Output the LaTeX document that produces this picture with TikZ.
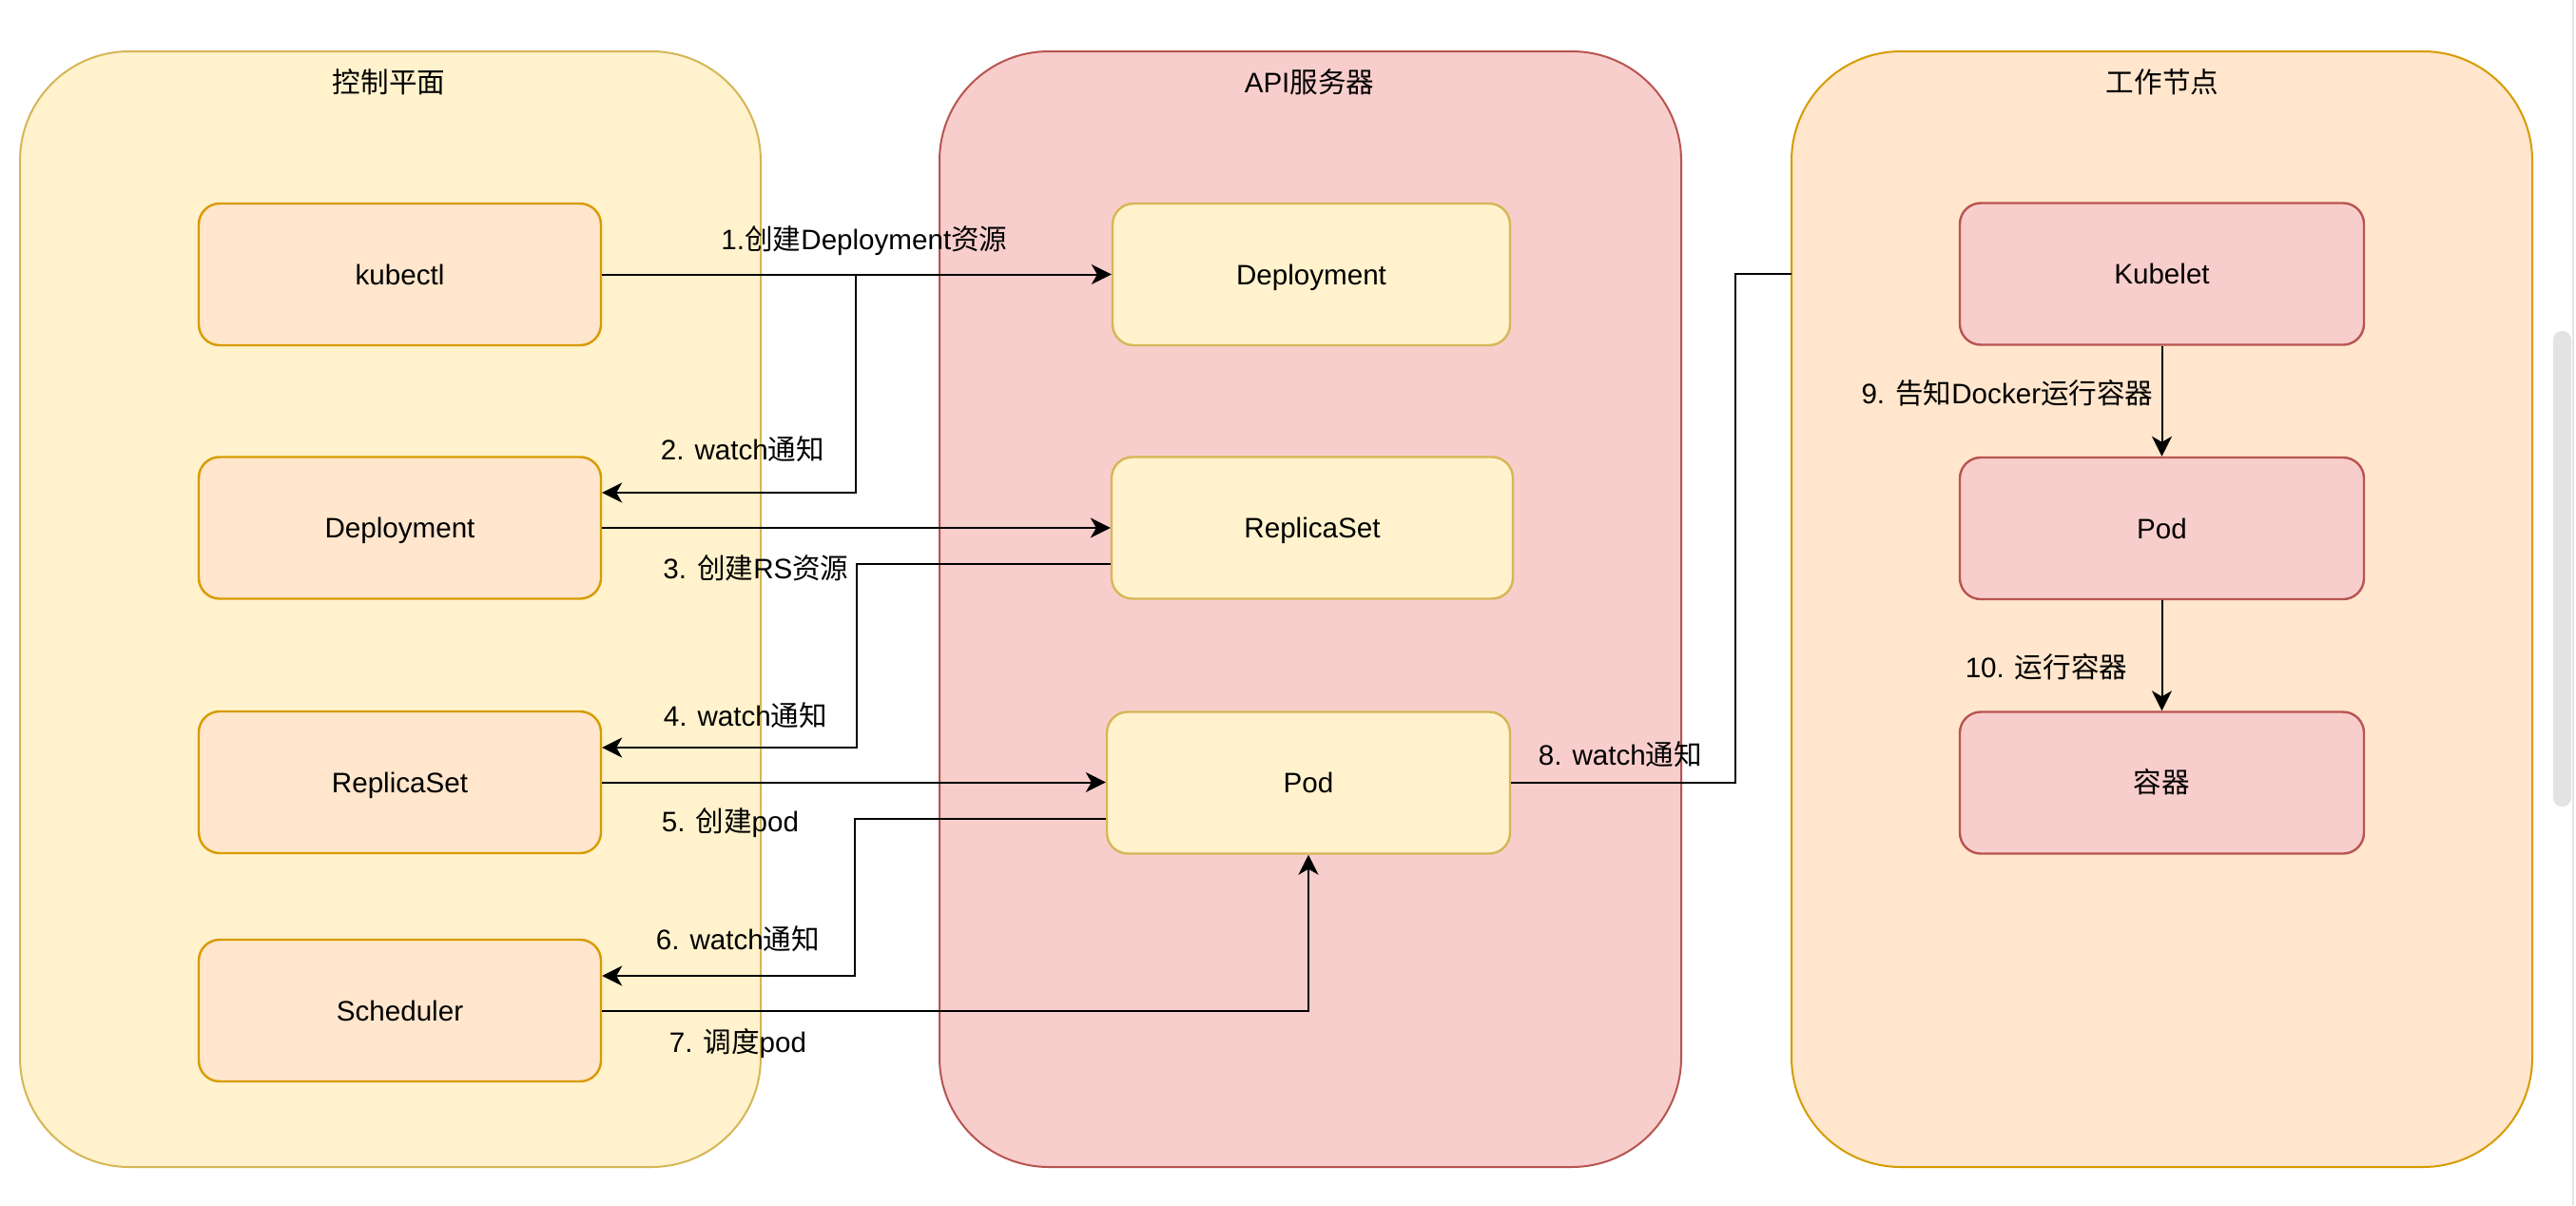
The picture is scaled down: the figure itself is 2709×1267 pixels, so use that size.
\documentclass[tikz,border=0pt]{standalone}
\usepackage{fontspec}
\setmainfont{Liberation Sans}
\newfontfamily\cjk{Noto Sans CJK SC}
\newcommand\zhtxt[1]{{\cjk #1}}
\usetikzlibrary{arrows.meta}

\definecolor{cpfill}{HTML}{FFF2CC}
\definecolor{cpline}{HTML}{D6B656}
\definecolor{apifill}{HTML}{F8CECC}
\definecolor{apiline}{HTML}{B85450}
\definecolor{wkfill}{HTML}{FFE6CC}
\definecolor{wkline}{HTML}{D79B00}
\definecolor{barfill}{HTML}{E3E3E3}
\definecolor{edgeline}{HTML}{E4E4E4}

\tikzset{
  every node/.style={font=\fontsize{29.6}{34}\selectfont, inner sep=0pt},
  panel/.style={draw, line width=2pt, rounded corners=115pt},
  cpbox/.style={panel, fill=cpfill, draw=cpline},
  apibox/.style={panel, fill=apifill, draw=apiline},
  wkbox/.style={panel, fill=wkfill, draw=wkline},
  item/.style={draw, line width=2.4pt, rounded corners=22pt, minimum height=149pt,
    text height=21.2pt, text depth=0pt},
  ctlitem/.style={item, fill=wkfill, draw=wkline, minimum width=423pt},
  resitem/.style={item, fill=cpfill, draw=cpline},
  nodeitem/.style={item, fill=apifill, draw=apiline, minimum width=425pt},
  link/.style={draw=black, line width=2pt},
  flow/.style={link, -{Stealth[length=21pt, width=21pt, inset=6pt]}},
  tag/.style={anchor=center},
}

\begin{document}
\begin{tikzpicture}[x=1pt, y=-1pt]
  \useasboundingbox[fill=white] (0,0) rectangle (2709,1267);

  % browser scrollbar at the right edge
  \draw[edgeline, line width=1.5pt] (2706,0) -- (2706,1267);
  \fill[barfill, rounded corners=9pt] (2685,348) rectangle (2704,848);

  % three panels
  \path[cpbox]  (21,54)   rectangle (800,1227);
  \path[apibox] (988,54)  rectangle (1768,1227);
  \path[wkbox]  (1884,54) rectangle (2663,1227);
  \coordinate (wkleft) at (1884,288);

  \node[tag] (tcp)  at (409,86)  {\zhtxt{控制平面}};
  \node[tag] (tapi) at (1377,86) {API\zhtxt{服务器}};
  \node[tag] (twk)  at (2274,86) {\zhtxt{工作节点}};

  % control plane components
  \node[ctlitem] (kubectl) at (420.5,288.5)  {kubectl};
  \node[ctlitem] (lDep)    at (420.5,555)    {Deployment};
  \node[ctlitem] (lRS)     at (420.5,822.5)  {ReplicaSet};
  \node[ctlitem] (sched)   at (420.5,1062.5) {Scheduler};

  % API server resources
  \node[resitem, minimum width=418pt] (mDep) at (1379,288.5) {Deployment};
  \node[resitem, minimum width=422pt] (mRS)  at (1380,555)   {ReplicaSet};
  \node[resitem, minimum width=424pt] (mPod) at (1376,823)   {Pod};

  % worker node parts
  \node[nodeitem] (kubelet) at (2273.5,288) {Kubelet};
  \node[nodeitem] (rPod)    at (2273.5,555.5) {Pod};
  \node[nodeitem] (rCtr)    at (2273.5,823) {\zhtxt{容器}};

  % 1 / 2: create Deployment, watch
  \draw[flow] (kubectl.east) -- (mDep.west |- kubectl.east);
  \coordinate (split2) at (900,288.5);
  \draw[flow] (split2) |- (lDep.east |- 0,518);

  % 3 / 4: create ReplicaSet, watch
  \draw[flow] (lDep.east) -- (mRS.west |- lDep.east);
  \draw[flow] (mRS.west |- 0,593) -| (901,786) -- (lRS.east |- 0,786);

  % 5 / 6: create pod, watch
  \draw[flow] (lRS.east) -- (mPod.west |- lRS.east);
  \draw[flow] (mPod.west |- 0,861) -| (899,1026) -- (sched.east |- 0,1026);

  % 7: schedule pod
  \draw[flow] (sched.east) -| (mPod.south);

  % 8: watch from kubelet side
  \draw[link] (mPod.east) -| (1825,288) -- (wkleft);

  % 9 / 10: inside the worker node
  \draw[flow] (kubelet.south) -- (rPod.north);
  \draw[flow] (rPod.south) -- (rCtr.north);

  % step labels
  \node[tag] (l1)  at (909,253)  {1.\zhtxt{创建}Deployment\zhtxt{资源}};
  \node[tag] (l2)  at (781,472)  {2. watch\zhtxt{通知}};
  \node[tag] (l3)  at (795,597)  {3. \zhtxt{创建}RS\zhtxt{资源}};
  \node[tag] (l4)  at (784,752)  {4. watch\zhtxt{通知}};
  \node[tag] (l5)  at (768,865)  {5. \zhtxt{创建}pod};
  \node[tag] (l6)  at (776,987)  {6. watch\zhtxt{通知}};
  \node[tag] (l7)  at (776,1097) {7. \zhtxt{调度}pod};
  \node[tag] (l8)  at (1704,793) {8. watch\zhtxt{通知}};
  \node[tag] (l9)  at (2111,413) {9. \zhtxt{告知}Docker\zhtxt{运行容器}};
  \node[tag] (l10) at (2152,701) {10. \zhtxt{运行容器}};
\end{tikzpicture}
\end{document}
